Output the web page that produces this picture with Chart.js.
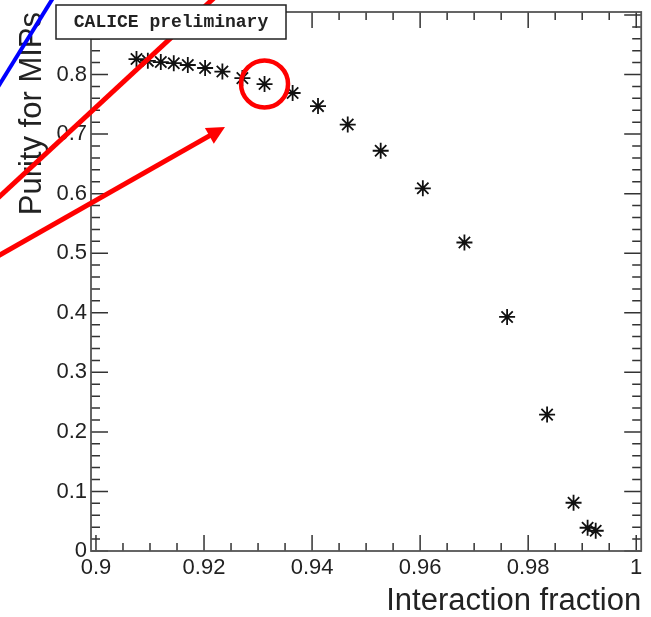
<!DOCTYPE html>
<html>
<head>
<meta charset="utf-8">
<script src="https://cdn.jsdelivr.net/npm/chart.js@4.4.0/dist/chart.umd.min.js"></script>
<style>
  html, body { margin: 0; padding: 0; background: #fff; }
  #wrap { width: 651px; height: 617px; }
</style>
</head>
<body>
<div id="wrap"><canvas id="purityChart" width="651" height="617"></canvas></div>
<script>
// values
const interactionFraction = [0.9075, 0.9096, 0.9120, 0.9144, 0.9170, 0.9202, 0.9234, 0.9271, 0.9312, 0.9364,
  0.9411, 0.9466, 0.9527, 0.9605, 0.9682, 0.9761, 0.9835, 0.9884, 0.9910, 0.9925];
const purity = [0.826, 0.823, 0.821, 0.819, 0.816, 0.811, 0.805, 0.794, 0.784, 0.769,
  0.747, 0.716, 0.672, 0.609, 0.518, 0.393, 0.229, 0.081, 0.039, 0.034];

const xTicks = [0.9, 0.92, 0.94, 0.96, 0.98, 1];
const yTicks = [0, 0.1, 0.2, 0.3, 0.4, 0.5, 0.6, 0.7, 0.8];
const highlighted = 8; // circled point

const fontFamily = '"Liberation Sans", Arial, sans-serif';

// ROOT style frame with inward ticks on all four sides
const frameTicks = {
  id: 'frameTicks',
  beforeDatasetsDraw(chart) {
    const { ctx, chartArea: a, scales: { x, y } } = chart;
    ctx.save();
    ctx.strokeStyle = '#333';
    ctx.lineWidth = 1.5;
    for (let i = 0; i <= 20; i++) {
      const v = 0.9 + i * 0.005;
      const px = x.getPixelForValue(v);
      const len = i % 4 === 0 ? 16 : 8;
      ctx.beginPath();
      ctx.moveTo(px, a.bottom); ctx.lineTo(px, a.bottom - len);
      ctx.moveTo(px, a.top); ctx.lineTo(px, a.top + len);
      ctx.stroke();
    }
    for (let i = 0; i <= 45; i++) {
      const v = i * 0.02;
      if (v > y.max) break;
      const py = y.getPixelForValue(v);
      const len = i % 5 === 0 ? 17 : 9;
      ctx.beginPath();
      ctx.moveTo(a.left, py); ctx.lineTo(a.left + len, py);
      ctx.moveTo(a.right, py); ctx.lineTo(a.right - len, py);
      ctx.stroke();
    }
    ctx.strokeStyle = '#555';
    ctx.lineWidth = 1.8;
    ctx.strokeRect(a.left, a.top, a.right - a.left, a.bottom - a.top);
    ctx.restore();
  }
};

// slide annotations drawn over the plot
const overlay = {
  id: 'overlay',
  afterDraw(chart) {
    const { ctx, scales: { x, y } } = chart;
    ctx.save();
    ctx.lineCap = 'butt';

    ctx.strokeStyle = '#f00';
    ctx.lineWidth = 5;
    ctx.beginPath();
    ctx.moveTo(214, -2); ctx.lineTo(-2, 198);
    ctx.stroke();

    ctx.fillStyle = '#fff';
    ctx.fillRect(56, 5, 230, 34);
    ctx.strokeStyle = '#222';
    ctx.lineWidth = 1.5;
    ctx.strokeRect(56, 5, 230, 34);
    ctx.fillStyle = '#222';
    ctx.font = 'bold 18px "Liberation Mono", "Courier New", monospace';
    ctx.textAlign = 'center';
    ctx.textBaseline = 'middle';
    ctx.fillText('CALICE preliminary', 171, 22);

    ctx.strokeStyle = '#00f';
    ctx.lineWidth = 4;
    ctx.beginPath();
    ctx.moveTo(53, -2); ctx.lineTo(-2, 87);
    ctx.stroke();

    // red arrow
    const tx = 225, ty = 127;
    const ang = Math.atan2(ty - 255, tx - 0);
    ctx.strokeStyle = '#f00';
    ctx.fillStyle = '#f00';
    ctx.lineWidth = 5;
    ctx.beginPath();
    ctx.moveTo(-2, 256);
    ctx.lineTo(tx - 12 * Math.cos(ang), ty - 12 * Math.sin(ang));
    ctx.stroke();
    ctx.beginPath();
    ctx.moveTo(tx, ty);
    ctx.lineTo(tx - 18 * Math.cos(ang) + 9 * Math.sin(ang), ty - 18 * Math.sin(ang) - 9 * Math.cos(ang));
    ctx.lineTo(tx - 18 * Math.cos(ang) - 9 * Math.sin(ang), ty - 18 * Math.sin(ang) + 9 * Math.cos(ang));
    ctx.closePath();
    ctx.fill();

    // circle round the highlighted point
    const cx = x.getPixelForValue(interactionFraction[highlighted]);
    const cy = y.getPixelForValue(purity[highlighted]);
    ctx.lineWidth = 4.5;
    ctx.beginPath();
    ctx.arc(cx, cy, 23.5, 0, Math.PI * 2);
    ctx.stroke();
    ctx.restore();
  }
};

const ctx = document.getElementById('purityChart').getContext('2d');
const chart = new Chart(ctx, {
  type: 'scatter',
  data: {
    datasets: [{
      label: 'Purity',
      data: interactionFraction.map((v, i) => ({ x: v, y: purity[i] })),
      pointStyle: 'star',
      pointRadius: 8,
      pointBorderWidth: 1.8,
      pointBorderColor: '#111',
      pointBackgroundColor: '#111'
    }]
  },
  options: {
    responsive: false,
    animation: false,
    events: [],
    layout: { padding: { top: 12, right: 6, left: 0, bottom: 0 } },
    plugins: { legend: { display: false }, tooltip: { enabled: false } },
    scales: {
      x: {
        type: 'linear',
        min: 0.89908,
        max: 1.00092,
        afterBuildTicks: s => { s.ticks = xTicks.map(v => ({ value: v })); },
        afterFit: s => { s.height = 66; s.paddingLeft = 0; s.paddingRight = 0; },
        grid: { display: false, drawTicks: false },
        border: { display: false },
        ticks: {
          padding: 4,
          color: '#222',
          font: { family: fontFamily, size: 22 },
          maxRotation: 0,
          callback: v => String(+v.toFixed(2))
        },
        title: {
          display: true,
          text: 'Interaction fraction',
          align: 'end',
          color: '#222',
          font: { family: fontFamily, size: 31, lineHeight: 1 },
          padding: { top: 0, bottom: 0 }
        }
      },
      y: {
        type: 'linear',
        min: 0,
        max: 0.905,
        afterBuildTicks: s => { s.ticks = yTicks.map(v => ({ value: v })); },
        afterFit: s => { s.width = 91; s.paddingTop = 0; s.paddingBottom = 0; },
        grid: { display: false, drawTicks: false },
        border: { display: false },
        ticks: {
          padding: 4,
          color: '#222',
          font: { family: fontFamily, size: 22 },
          callback: v => String(+v.toFixed(2))
        },
        title: {
          display: true,
          text: 'Purity for MIPs',
          align: 'end',
          color: '#222',
          font: { family: fontFamily, size: 31, lineHeight: 1.2 },
          padding: { top: 14, bottom: 0 }
        }
      }
    }
  },
  plugins: [frameTicks, overlay]
});
</script>
</body>
</html>
